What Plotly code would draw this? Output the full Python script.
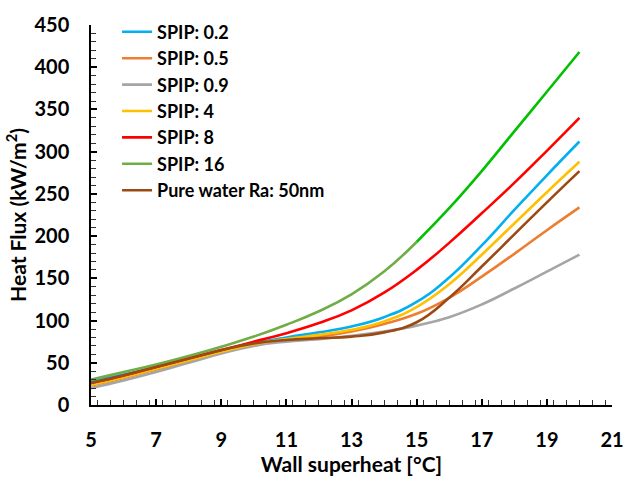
import plotly.graph_objects as go

x_vals = [5, 6, 7, 8, 9, 10, 11, 12, 13, 14, 15, 16, 17, 18, 19, 20]

spip_02 = [28, 36, 45, 54, 64, 73, 80, 86, 93, 104, 122, 151, 189, 231, 272, 312]
spip_05 = [23, 32, 42, 52, 63, 72, 77, 81, 87, 96, 108, 127, 152, 179, 207, 234]
spip_09 = [20, 29, 39, 50, 61, 70, 75, 78, 82, 87, 94, 104, 119, 138, 158, 178]
spip_4 = [24, 33, 43, 53, 63, 72, 78, 83, 89, 99, 116, 143, 178, 215, 252, 288]
spip_8 = [26, 35, 45, 55, 65, 75, 85, 97, 112, 133, 160, 192, 227, 263, 301, 340]
spip_16 = [30, 39, 48, 58, 69, 81, 95, 111, 131, 158, 193, 233, 277, 324, 371, 418]
pure_water = [26, 35, 45, 55, 65, 73, 77, 79, 81, 86, 98, 127, 164, 202, 240, 277]

series_names = ["SPIP: 0.2", "SPIP: 0.5", "SPIP: 0.9", "SPIP: 4", "SPIP: 8", "SPIP: 16",
                "Pure water Ra: 50nm"]
series_vals = [spip_02, spip_05, spip_09, spip_4, spip_8, spip_16, pure_water]
colors = ["#00B0F0", "#ED7D31", "#A5A5A5", "#FFC000", "#FF0000", "#70AD47", "#9C4A14"]
green_tail_color = "#00C000"
split_x = 15

FONT = "Lato"
LINE = dict(width=2.6, shape="spline", smoothing=1.3)

fig = go.Figure()
for k, (name, vals, col) in enumerate(zip(series_names, series_vals, colors)):
    grp = "g%d" % k
    if name == "SPIP: 16":
        i = x_vals.index(split_x)
        fig.add_trace(go.Scatter(x=x_vals[:i + 1], y=vals[:i + 1], mode="lines", name=name,
                                 legendgroup=grp, line=dict(color=col, **LINE)))
        fig.add_trace(go.Scatter(x=x_vals[i:], y=vals[i:], mode="lines", name=name,
                                 legendgroup=grp, showlegend=False,
                                 line=dict(color=green_tail_color, **LINE)))
    else:
        fig.add_trace(go.Scatter(x=x_vals, y=vals, mode="lines", name=name,
                                 legendgroup=grp, line=dict(color=col, **LINE)))

fig.update_layout(
    width=636, height=482,
    margin=dict(l=91, r=14, t=17, b=77),
    paper_bgcolor="white", plot_bgcolor="white",
    font=dict(family=FONT, color="black"),
    legend=dict(x=0.05, y=1.03, xanchor="left", yanchor="top",
                font=dict(size=18, family=FONT, weight="bold", color="black"),
                bgcolor="rgba(0,0,0,0)", traceorder="grouped", tracegroupgap=0),
    showlegend=True,
)
fig.update_xaxes(
    range=[5, 21], dtick=2, tick0=5,
    showline=True, linecolor="black", linewidth=1.5, mirror=False,
    showgrid=False, zeroline=False,
    ticks="inside", ticklen=6, tickwidth=1.5, tickcolor="black",
    minor=dict(dtick=0.4, ticks="inside", ticklen=5, tickwidth=1, tickcolor="#333333"),
    tickfont=dict(size=20, family=FONT, weight="bold"),
    ticklabelstandoff=16,
    title=dict(text="Wall superheat [°C]", font=dict(size=21, family=FONT, weight="bold"),
               standoff=4),
)
fig.update_yaxes(
    range=[0, 450], dtick=50,
    showline=True, linecolor="black", linewidth=1.5,
    showgrid=False, zeroline=False,
    ticks="inside", ticklen=6, tickwidth=1.5, tickcolor="black",
    minor=dict(dtick=10, ticks="inside", ticklen=5, tickwidth=1, tickcolor="#333333"),
    tickfont=dict(size=20, family=FONT, weight="bold"),
    ticklabelstandoff=16,
    title=dict(text="Heat Flux (kW/m<sup>2</sup>)", font=dict(size=21, family=FONT, weight="bold"),
               standoff=2),
)

fig.write_html("out.html")
